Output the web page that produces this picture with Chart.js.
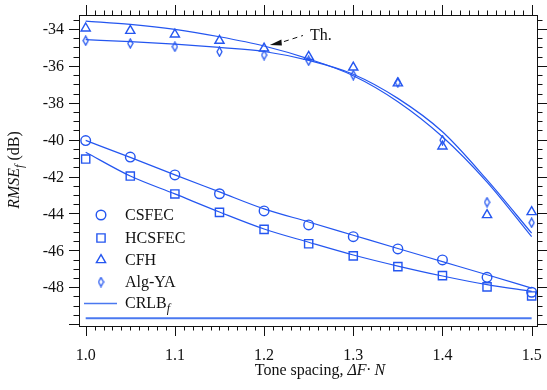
<!DOCTYPE html>
<html>
<head>
<meta charset="utf-8">
<script src="https://cdn.jsdelivr.net/npm/chart.js@4.4.1/dist/chart.umd.min.js"></script>
<style>
    html, body { margin: 0; padding: 0; background: #fff; }
</style>
</head>
<body>
<canvas id="chart" width="547" height="390"></canvas>
<script>
// Data
const TONE_SPACING = [1.0, 1.05, 1.1, 1.15, 1.2, 1.25, 1.3, 1.35, 1.4, 1.45, 1.5];
const X_TICKS = [1.0, 1.1, 1.2, 1.3, 1.4, 1.5];
const Y_TICKS = [-48, -46, -44, -42, -40, -38, -36, -34];

// markers
const CSFEC  = [-40.05, -40.94, -41.91, -42.93, -43.86, -44.62, -45.26, -45.92, -46.52, -47.46, -48.27];
const HCSFEC = [-41.05, -41.97, -42.94, -43.94, -44.86, -45.64, -46.30, -46.88, -47.37, -47.98, -48.47];
const CFH    = [-33.96, -34.09, -34.29, -34.63, -35.05, -35.50, -36.08, -36.94, -40.36, -44.08, -43.92];
const ALG_YA = [-34.63, -34.78, -34.96, -35.23, -35.41, -35.72, -36.50, -36.90, -40.02, -43.39, -44.50];

// curves
const CSFEC_FIT  = [-40.04, -40.96, -41.91, -42.83, -43.75, -44.46, -45.18, -45.90, -46.61, -47.32, -48.05];
const HCSFEC_FIT = [-40.68, -41.97, -42.94, -43.92, -44.84, -45.56, -46.25, -46.85, -47.39, -47.86, -48.22];
const TH_CFH     = [-33.57, -33.75, -34.02, -34.42, -34.92, -35.62, -36.53, -37.94, -39.84, -42.30, -45.26];
const TH_ALG_YA  = [-34.58, -34.68, -34.82, -35.00, -35.22, -35.70, -36.45, -37.76, -39.57, -42.18, -45.07];
const CRLB_F     = [-49.68, -49.68, -49.68, -49.68, -49.68, -49.68, -49.68, -49.68, -49.68, -49.68, -49.68];

const BLUE = '#2456f0';
const CRLB_BLUE = '#4a78f0';
const INK = '#111';
const SERIF = '"Liberation Serif", "Times New Roman", serif';

const toXY = arr => TONE_SPACING.map((x, i) => ({ x: x, y: arr[i] }));

// narrow diamond marker used for Alg-YA
function makeDiamond() {
    const c = document.createElement('canvas');
    c.width = 7;
    c.height = 11;
    const g = c.getContext('2d');
    g.strokeStyle = BLUE;
    g.lineWidth = 1.3;
    g.beginPath();
    g.moveTo(3.5, 1);
    g.lineTo(6, 5.5);
    g.lineTo(3.5, 10);
    g.lineTo(1, 5.5);
    g.closePath();
    g.stroke();
    return c;
}
const diamond = makeDiamond();

function lineSet(data, color, width) {
    return {
        data: toXY(data),
        borderColor: color,
        borderWidth: width,
        pointRadius: 0,
        showLine: true,
        fill: false,
        cubicInterpolationMode: 'monotone'
    };
}

function markerSet(data, style, radius) {
    return {
        data: toXY(data),
        showLine: false,
        pointStyle: style,
        pointRadius: radius,
        pointBorderColor: BLUE,
        pointBackgroundColor: 'rgba(0,0,0,0)',
        pointBorderWidth: 1.4
    };
}

// Frame, outward ticks, tick labels, titles, legend and "Th." note
const decorations = {
    id: 'decorations',
    afterDraw(chart) {
        const ctx = chart.ctx;
        const a = chart.chartArea;
        const xs = chart.scales.x;
        const ys = chart.scales.y;
        ctx.save();
        ctx.strokeStyle = INK;
        ctx.lineWidth = 1;
        ctx.strokeRect(a.left + 0.5, a.top + 0.5, a.right - a.left, a.bottom - a.top);

        ctx.beginPath();
        for (let i = 0; i <= 50; i++) {
            const px = Math.round(xs.getPixelForValue(1 + i / 100)) + 0.5;
            const len = i % 10 === 0 ? 10 : 4.5;
            ctx.moveTo(px, a.bottom);
            ctx.lineTo(px, a.bottom + len);
            ctx.moveTo(px, a.top);
            ctx.lineTo(px, a.top - len);
        }
        for (let v = -50; v <= -33.5; v += 0.5) {
            const py = Math.round(ys.getPixelForValue(v)) + 0.5;
            const len = v % 2 === 0 ? 10 : 5.5;
            ctx.moveTo(a.left, py);
            ctx.lineTo(a.left - len, py);
            ctx.moveTo(a.right, py);
            ctx.lineTo(a.right + len, py);
        }
        ctx.stroke();

        // tick labels
        ctx.fillStyle = INK;
        ctx.font = '16px ' + SERIF;
        ctx.textAlign = 'center';
        ctx.textBaseline = 'alphabetic';
        X_TICKS.forEach(v => {
            ctx.fillText(v.toFixed(1), xs.getPixelForValue(v), 360);
        });
        ctx.textAlign = 'right';
        ctx.textBaseline = 'middle';
        Y_TICKS.forEach(v => {
            ctx.fillText(String(v), a.left - 15, ys.getPixelForValue(v) + 1);
        });
        ctx.textAlign = 'left';

        // x title
        ctx.textBaseline = 'alphabetic';
        ctx.font = '16px ' + SERIF;
        const t1 = 'Tone spacing, ';
        const w1 = ctx.measureText(t1).width;
        ctx.font = 'italic 16px ' + SERIF;
        const t2 = 'ΔF· N';
        const w2 = ctx.measureText(t2).width;
        let sx = 320 - (w1 + w2) / 2;
        ctx.font = '16px ' + SERIF;
        ctx.fillText(t1, sx, 375);
        ctx.font = 'italic 16px ' + SERIF;
        ctx.fillText(t2, sx + w1, 375);

        // y title
        ctx.save();
        ctx.translate(19, 170);
        ctx.rotate(-Math.PI / 2);
        ctx.font = 'italic 16px ' + SERIF;
        const r1 = ctx.measureText('RMSE').width;
        ctx.font = 'italic 12px ' + SERIF;
        const r2 = ctx.measureText('f').width;
        ctx.font = '16px ' + SERIF;
        const r3 = ctx.measureText(' (dB)').width;
        let rx = -(r1 + r2 + r3) / 2;
        ctx.font = 'italic 16px ' + SERIF;
        ctx.fillText('RMSE', rx, 0);
        ctx.font = 'italic 12px ' + SERIF;
        ctx.fillText('f', rx + r1, 4);
        ctx.font = '16px ' + SERIF;
        ctx.fillText(' (dB)', rx + r1 + r2, 0);
        ctx.restore();

        // legend
        const legendRows = [
            { label: 'CSFEC', style: 'circle', r: 4.8, y: 215 },
            { label: 'HCSFEC', style: 'rect', r: 5.8, y: 238 },
            { label: 'CFH', style: 'triangle', r: 5.3, y: 260 },
            { label: 'Alg-YA', style: diamond, r: 5, y: 282 }
        ];
        legendRows.forEach(row => {
            ctx.strokeStyle = BLUE;
            ctx.lineWidth = 1.4;
            ctx.fillStyle = 'rgba(0,0,0,0)';
            Chart.helpers.drawPoint(ctx, {
                pointStyle: row.style, radius: row.r, borderWidth: 1.4, rotation: 0
            }, 101, row.y);
            ctx.fillStyle = INK;
            ctx.font = '16px ' + SERIF;
            ctx.textBaseline = 'middle';
            ctx.fillText(row.label, 125, row.y + 1);
        });
        ctx.strokeStyle = CRLB_BLUE;
        ctx.lineWidth = 1.5;
        ctx.beginPath();
        ctx.moveTo(84, 303.5);
        ctx.lineTo(117, 303.5);
        ctx.stroke();
        ctx.fillStyle = INK;
        ctx.font = '16px ' + SERIF;
        ctx.fillText('CRLB', 125, 304);
        const cw = ctx.measureText('CRLB').width;
        ctx.font = 'italic 12px ' + SERIF;
        ctx.fillText('f', 125 + cw, 309);

        // "Th." note with dashed arrow
        const tip = [xs.getPixelForValue(1.2065), ys.getPixelForValue(-34.87)];
        ctx.fillStyle = INK;
        ctx.beginPath();
        ctx.moveTo(tip[0], tip[1]);
        ctx.lineTo(tip[0] + 11.5, tip[1] - 5.5);
        ctx.lineTo(tip[0] + 12, tip[1] + 0.5);
        ctx.closePath();
        ctx.fill();
        ctx.strokeStyle = INK;
        ctx.lineWidth = 1;
        ctx.setLineDash([5, 4]);
        ctx.beginPath();
        ctx.moveTo(xs.getPixelForValue(1.2223), ys.getPixelForValue(-34.68));
        ctx.lineTo(xs.getPixelForValue(1.2436), ys.getPixelForValue(-34.35));
        ctx.stroke();
        ctx.setLineDash([]);
        ctx.font = '16px ' + SERIF;
        ctx.textBaseline = 'alphabetic';
        ctx.fillText('Th.', xs.getPixelForValue(1.2515), ys.getPixelForValue(-34.6));
        ctx.restore();
    }
};

new Chart(document.getElementById('chart'), {
    type: 'scatter',
    data: {
        datasets: [
            lineSet(CSFEC_FIT, BLUE, 1.2),
            lineSet(HCSFEC_FIT, BLUE, 1.2),
            lineSet(TH_CFH, BLUE, 1.2),
            lineSet(TH_ALG_YA, BLUE, 1.2),
            lineSet(CRLB_F, CRLB_BLUE, 2),
            markerSet(CSFEC, 'circle', 4.8),
            markerSet(HCSFEC, 'rect', 5.8),
            markerSet(CFH, 'triangle', 5.3),
            markerSet(ALG_YA, diamond, 5)
        ]
    },
    options: {
        responsive: false,
        animation: false,
        devicePixelRatio: 1,
        layout: { padding: { left: 0, right: 10, top: 15, bottom: 0 } },
        plugins: {
            legend: { display: false },
            tooltip: { enabled: false }
        },
        scales: {
            x: {
                type: 'linear',
                min: 0.9925,
                max: 1.506,
                afterFit: s => { s.height = 64; },
                afterBuildTicks: s => { s.ticks = X_TICKS.map(v => ({ value: v })); },
                grid: { display: false, drawTicks: false },
                border: { display: false },
                ticks: { display: false }
            },
            y: {
                type: 'linear',
                min: -50.1,
                max: -33.24,
                afterFit: s => { s.width = 79; },
                afterBuildTicks: s => { s.ticks = Y_TICKS.map(v => ({ value: v })); },
                grid: { display: false, drawTicks: false },
                border: { display: false },
                ticks: { display: false }
            }
        }
    },
    plugins: [decorations]
});
</script>
</body>
</html>
